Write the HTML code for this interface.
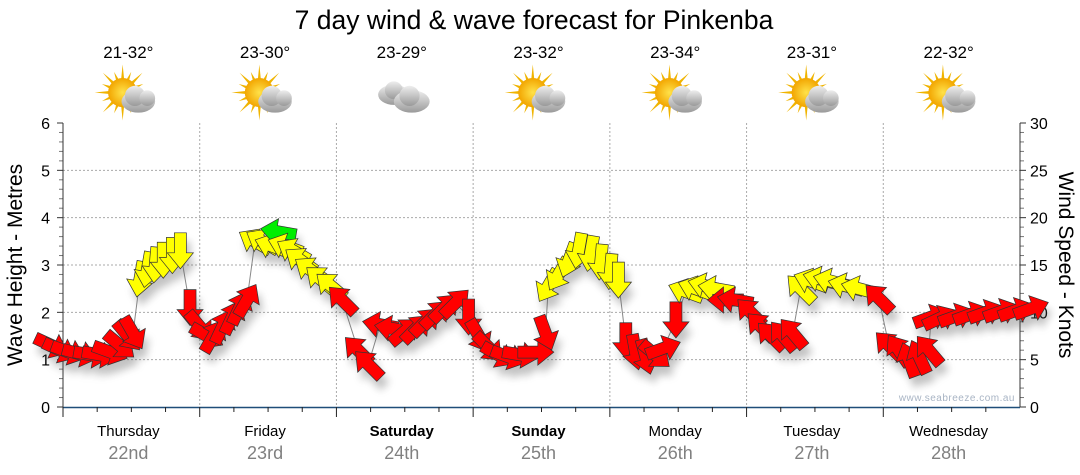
<!DOCTYPE html>
<html><head><meta charset="utf-8"><style>
body{margin:0;background:#fff;width:1080px;height:475px;overflow:hidden;font-family:"Liberation Sans",sans-serif}
svg{display:block}
</style></head><body>
<svg id="c" width="1080" height="475" viewBox="0 0 1080 475" xmlns="http://www.w3.org/2000/svg">
<defs>
<filter id="sh" x="-50%" y="-50%" width="200%" height="200%"><feGaussianBlur stdDeviation="4"/></filter>
<radialGradient id="sun" cx="50%" cy="50%" r="50%"><stop offset="0" stop-color="#ffe24a"/><stop offset="1" stop-color="#f2a500"/></radialGradient>
<linearGradient id="cld" x1="0" y1="0" x2="0" y2="1"><stop offset="0" stop-color="#eeeeee"/><stop offset="1" stop-color="#9a9a9a"/></linearGradient>
</defs>
<text x="534" y="29" text-anchor="middle" font-size="26.5" fill="#000">7 day wind &amp; wave forecast for Pinkenba</text>
<g id="grid"></g><g id="axes"></g><g id="series"></g>
<text x="1015" y="401" text-anchor="end" font-size="10" fill="#a8b4c4" letter-spacing="0.5">www.seabreeze.com.au</text>
<text transform="translate(22,265) rotate(-90)" text-anchor="middle" font-size="21" fill="#000">Wave Height - Metres</text>
<text transform="translate(1059,265) rotate(90)" text-anchor="middle" font-size="21" fill="#000">Wind Speed - Knots</text>
</svg>
<script>
const days=["Thursday","Friday","Saturday","Sunday","Monday","Tuesday","Wednesday"];
const dates=["22nd","23rd","24th","25th","26th","27th","28th"];
const temps=["21-32°","23-30°","23-29°","23-32°","23-34°","23-31°","22-32°"];
const icons=["partly","partly","cloudy","partly","partly","partly","partly"];
const waveTicks=[0,1,2,3,4,5,6];
const windTicks=[0,5,10,15,20,25,30];
const hours=[-2,-0.5,1,3,5,6.5,8.3,10,11.4,12.3,13.5,14.8,16.2,17.6,19.2,20.6,22.3,24,25.3,26.4,28,29.7,31,32.3,33.7,35,36.7,37.8,39,40.4,41.7,43.4,45.2,47,49,51.8,53.6,55.7,57.8,60,62,63.6,65.4,67,68.9,71.2,73,74.7,76.4,78.2,80.3,83,84.7,85.2,87,88.8,90.5,92.6,94.4,96.1,97.5,98.8,100.5,102.3,104,105.4,107.6,109.3,111,112.8,114.6,116.3,118,120.7,122.5,124.3,126.4,128.1,129.5,131.3,133,134.8,137.4,139.7,143.2,145,146.7,148.5,150.3,152,152.4,154,156.8,159.4,162,164.7,167.3,170];
const speeds=[6.5,6,5.8,5.6,5.5,5.5,5.8,6.5,7.5,7.8,13.5,14.5,15,15.5,16,16.5,10.5,8.5,7.5,7.5,8.5,9.5,10.5,11.3,17.5,17.5,17,18.5,17,16.5,15.5,14.5,13.5,12.8,11.3,6,4.5,8.7,8.3,8,8.3,9,9.8,10.5,11,9.5,7.5,6.3,5.5,5.3,5.5,5.8,7.8,12.8,14,15.5,16.5,16.2,15.3,14.3,13.4,7,5.8,5.3,5.5,6.2,9.2,12.2,12.5,12.8,12.5,11.3,11.3,10,8.5,7.5,7.5,7.8,12.5,13.3,13.5,13.3,12.8,12.5,11.5,6.5,6,5,5.3,6,9.5,9.4,9.6,9.8,10,10.1,10.2,10.4];
const dirs=[25,25,20,15,10,10,20,40,50,60,100,100,95,90,90,90,90,50,30,-60,-65,-65,-65,-60,210,210,200,190,200,210,215,215,220,220,225,225,225,190,190,-40,-45,-45,-45,-45,-45,90,60,45,30,20,10,0,70,120,120,110,100,100,95,95,90,90,80,75,40,-20,90,200,200,195,190,180,190,225,225,225,230,230,225,200,195,195,195,195,225,225,235,250,245,230,-20,-25,-20,-20,-20,-20,-20,-20];

const NS="http://www.w3.org/2000/svg";
const X0=63,X1=1020,Y0=407,YT=123,DAYW=(X1-X0)/7;
const xH=h=>X0+h*DAYW/24;
const yW=m=>Y0-m*(Y0-YT)/6;
const yK=k=>Y0-k*(Y0-YT)/30;
function mk(tag,attrs,parent){const e=document.createElementNS(NS,tag);for(const k in attrs)e.setAttribute(k,attrs[k]);parent.appendChild(e);return e;}
const grid=document.getElementById('grid'),axes=document.getElementById('axes'),series=document.getElementById('series'),svg=document.getElementById('c');

waveTicks.forEach(m=>{
  if(m>0&&m<6){const g=mk('line',{x1:X0,x2:X1,y1:yW(m),y2:yW(m),stroke:'#aaa','stroke-dasharray':'2,2'},grid);
  
  }
  const t=mk('text',{x:50,y:yW(m)+6,'text-anchor':'end','font-size':16,fill:'#000'},axes);t.textContent=m;
  
  
  mk('line',{x1:X0-6,x2:X0,y1:yW(m),y2:yW(m),stroke:'#333'},axes);
});
for(let i=0;i<=30;i++){const v=i*0.2;if(i%5)mk('line',{x1:X0-4,x2:X0,y1:yW(v),y2:yW(v),stroke:'#777'},axes);}
windTicks.forEach(k=>{
  const t=mk('text',{x:1030,y:yK(k)+6,'font-size':16,fill:'#000'},axes);t.textContent=k;
  
  
  mk('line',{x1:X1,x2:X1+6,y1:yK(k),y2:yK(k),stroke:'#333'},axes);
});
for(let k=0;k<=30;k++){if(k%5)mk('line',{x1:X1,x2:X1+4,y1:yK(k),y2:yK(k),stroke:'#777'},axes);}
mk('line',{x1:X0,x2:X0,y1:YT,y2:Y0,stroke:'#333'},axes);
mk('line',{x1:X1,x2:X1,y1:YT,y2:Y0,stroke:'#333'},axes);
const xa=mk('line',{x1:X0,x2:X1,y1:Y0+0.5,y2:Y0+0.5,stroke:'#1f4e79','stroke-width':1.5},axes);



days.forEach((d,i)=>{
  const x=X0+i*DAYW,cx=x+DAYW/2;
  if(i>0){const v=mk('line',{x1:x,x2:x,y1:YT,y2:Y0,stroke:'#aaa','stroke-dasharray':'2,2'},grid);
  
  }
  for(let q=0;q<4;q++){const tx=x+q*DAYW/4;mk('line',{x1:tx,x2:tx,y1:Y0,y2:Y0+(q?5:10),stroke:'#222'},axes);}
  const bold=(d==="Saturday"||d==="Sunday");
  const t=mk('text',{x:cx-3,y:436,'text-anchor':'middle','font-size':15,fill:'#000','font-weight':bold?'bold':'normal'},axes);t.textContent=d;
  
  
  const t2=mk('text',{x:cx-3,y:459,'text-anchor':'middle','font-size':18,fill:'#808080'},axes);t2.textContent=dates[i];
  
  
  const t3=mk('text',{x:cx-3,y:58,'text-anchor':'middle','font-size':17,fill:'#000'},svg);t3.textContent=temps[i];
  
  
  const g=mk('g',{transform:`translate(${cx-2},97) scale(1.12)`},svg);
  
  
  if(icons[i]==='partly'){
    for(let r=0;r<16;r++){const a=r*22.5*Math.PI/180,L=r%2?20:25;mk('polygon',{points:`${-6+Math.cos(a-0.13)*11},${-4+Math.sin(a-0.13)*11} ${-6+Math.cos(a)*L},${-4+Math.sin(a)*L} ${-6+Math.cos(a+0.13)*11},${-4+Math.sin(a+0.13)*11}`,fill:'#f0b400'},g);}
    mk('circle',{cx:-6,cy:-4,r:13,fill:'url(#sun)'},g);
    mk('ellipse',{cx:8,cy:4,rx:15,ry:10,fill:'url(#cld)'},g);
    mk('circle',{cx:5,cy:-1,r:9,fill:'url(#cld)'},g);
    mk('circle',{cx:16,cy:1,r:7,fill:'url(#cld)'},g);
  }else{
    mk('ellipse',{cx:-8,cy:-2,rx:14,ry:9,fill:'url(#cld)'},g);
    mk('circle',{cx:-8,cy:-6,r:8,fill:'url(#cld)'},g);
    mk('ellipse',{cx:8,cy:4,rx:16,ry:10,fill:'url(#cld)'},g);
    mk('circle',{cx:6,cy:-1,r:9,fill:'url(#cld)'},g);
  }
});

const pts=hours.map((h,i)=>`${xH(h)},${yK(speeds[i])}`).join(' ');
const pl=mk('polyline',{points:pts,fill:'none',stroke:'#888','stroke-width':1},series);


const sg=mk('g',{filter:'url(#sh)',opacity:0.35},series);
const ARROW="-18,-6 2,-6 2,-13 18,0 2,13 2,6 -18,6";
hours.forEach((h,i)=>{
  mk('polygon',{points:ARROW,fill:'#555',transform:`translate(${xH(h)+4},${yK(speeds[i])+9}) rotate(${dirs[i]})`},sg);
});
hours.forEach((h,i)=>{
  const s=speeds[i];
  const col=s>=18?'#00ee00':(s>=12?'#ffff00':'#ff0000');
  const a=mk('polygon',{points:ARROW,fill:col,stroke:'#333','stroke-width':0.7,transform:`translate(${xH(h)},${yK(s)}) rotate(${dirs[i]})`},series);
  
  
});
</script>
</body></html>
